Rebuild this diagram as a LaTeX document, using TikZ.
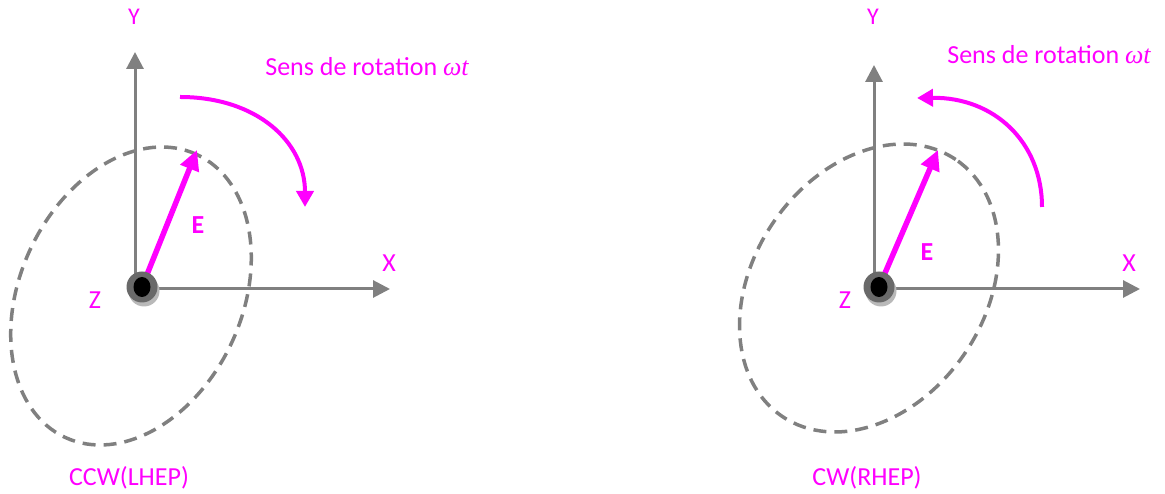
\documentclass[tikz,border=0pt]{standalone}
\usepackage{fontspec}
\setmainfont{Carlito}
\newfontfamily\omegafont{Liberation Serif}
\usetikzlibrary{arrows.meta}
\definecolor{mag}{RGB}{255,0,255}
\definecolor{axgray}{RGB}{128,128,128}
\definecolor{ringgray}{RGB}{105,105,105}
\definecolor{shadowgray}{RGB}{185,185,185}
\tikzset{
  axis/.style={draw=axgray, line width=3pt, -{Triangle[length=17pt,width=17pt]}},
  evec/.style={draw=mag, line width=5.5pt, -{Triangle[length=20pt,width=19pt]}},
  rotarrow/.style={draw=mag, line width=4pt, -{Triangle[length=16pt,width=17pt]}},
  orbit/.style={draw=axgray, line width=3.5pt, dash pattern=on 13pt off 8pt},
  lbl/.style={text=mag, font=\fontsize{26}{31}\selectfont, inner sep=0pt},
  elbl/.style={text=mag, font=\fontsize{26}{31}\selectfont\bfseries, inner sep=0pt},
  ylbl/.style={text=mag, font=\fontsize{24}{29}\selectfont, inner sep=0pt},
}
\newcommand{\wt}{{\omegafont\itshape ωt}}
\newcommand{\zdot}[2]{%
  \fill[shadowgray] ([xshift=2pt,yshift=-4pt]#1) circle (15.5pt);
  \node[circle, fill=ringgray, minimum size=31pt, inner sep=0pt] (#2) at (#1) {};
  \fill[black] (#2.center) ellipse [x radius=8.5pt, y radius=10pt];
}
\begin{document}
\begin{tikzpicture}[x=1pt,y=1pt]
\useasboundingbox (0,0) rectangle (1165,494);
% ---------------- left diagram ----------------
\coordinate (o1) at (135,205);
\coordinate (c1) at (142,207);
\coordinate (y1) at (135,442);
\coordinate (x1) at (390,205);
\coordinate (e1) at (197,344);
\coordinate (a1s) at (180,397);
\coordinate (a1e) at (305,287);
\draw[orbit] (131,198) ellipse [x radius=156, y radius=111, rotate=65];
\draw[axis] (o1) -- (y1);
\draw[axis] (o1) -- (x1);
\draw[evec] (c1) -- (e1);
\draw[rotarrow] (a1s) .. controls (257,397) and (305,352) .. (a1e);
\zdot{c1}{d1}
\node[ylbl] (ly1) at (134,477) {Y};
\node[lbl] (lx1) at (389,231) {X};
\node[lbl] (lz1) at (95,194) {Z};
\node[elbl] (le1) at (198,269) {E};
\node[lbl] (ls1) at (367,427) {Sens de rotation \wt};
\node[lbl] (lc1) at (129,16) {CCW(LHEP)};
% ---------------- right diagram ----------------
\coordinate (o2) at (874,205);
\coordinate (c2) at (879,207);
\coordinate (y2) at (874,429);
\coordinate (x2) at (1140,205);
\coordinate (e2) at (938,344);
\coordinate (a2s) at (1042,287);
\coordinate (a2e) at (917,396);
\draw[orbit] (869,206) ellipse [x radius=155, y radius=116, rotate=56];
\draw[axis] (o2) -- (y2);
\draw[axis] (o2) -- (x2);
\draw[evec] (c2) -- (e2);
\draw[rotarrow] (a2s) .. controls (1042,352) and (994,397) .. (a2e);
\zdot{c2}{d2}
\node[ylbl] (ly2) at (873,477) {Y};
\node[lbl] (lx2) at (1129,231) {X};
\node[lbl] (lz2) at (845,194) {Z};
\node[elbl] (le2) at (927,242) {E};
\node[lbl] (ls2) at (1049,439) {Sens de rotation \wt};
\node[lbl] (lc2) at (867,16) {CW(RHEP)};
\end{tikzpicture}
\end{document}
